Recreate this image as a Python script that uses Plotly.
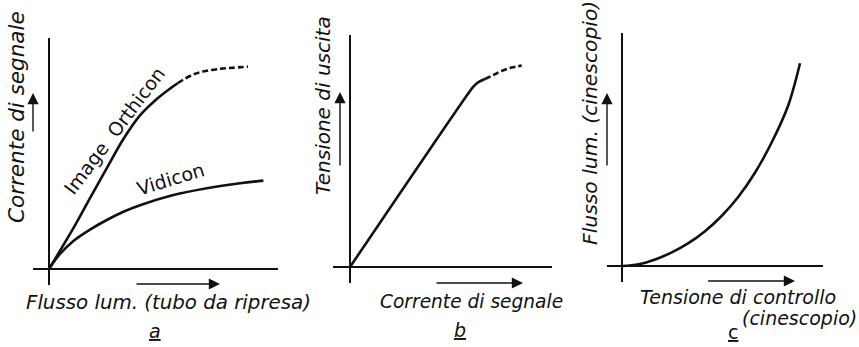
import plotly.graph_objects as go

W, H = 859, 347
INK = "#111111"

# ---------------- data (arbitrary units) ----------------
# panel a: signal current vs light flux
orthicon_x = [0, 1.22, 2.05, 2.89, 3.72, 4.55, 5.39, 6.05, 6.45]
orthicon_y = [0, 2.04, 3.54, 5.04, 6.50, 7.68, 8.50, 9.02, 9.30]
orthicon_dash_x = [6.45, 6.70, 7.20, 7.70, 8.40, 9.05, 9.95]
orthicon_dash_y = [9.30, 9.46, 9.72, 9.87, 9.99, 10.05, 10.12]
vidicon_x = [0, 0.55, 1.22, 2.05, 2.89, 3.72, 4.55, 6.22, 7.89, 9.55, 10.72]
vidicon_y = [0, 0.75, 1.40, 1.97, 2.45, 2.86, 3.19, 3.70, 4.04, 4.29, 4.42]

# panel b: output voltage vs signal current
out_x = [0, 5.92, 6.17, 6.42, 6.75]
out_y = [0, 8.69, 9.02, 9.24, 9.40]
out_dash_x = [6.75, 7.17, 7.58, 8.08, 8.58]
out_dash_y = [9.40, 9.60, 9.80, 9.97, 10.07]

# panel c: light flux vs control voltage
crt_x = [0, 0.83, 1.66, 2.49, 3.32, 4.15, 4.98, 5.81, 6.64, 7.47, 8.30, 8.90]
crt_y = [0, 0.09, 0.33, 0.68, 1.14, 1.74, 2.50, 3.45, 4.65, 6.15, 8.00, 10.14]

# ---------------- layout geometry (pixels) ----------------
S = 20.0  # px per unit
panels = {
    # name: (x0, x1, y0, y1, origin_x, origin_y)
    "a": (33, 278, 38, 285, 49, 269),
    "b": (333, 552, 35, 283, 350, 267),
    "c": (607, 823, 33, 282, 622, 266),
}

fig = go.Figure()

def add_line(x, y, axis, dash=None):
    fig.add_trace(go.Scatter(
        x=x, y=y, mode="lines", xaxis="x" + axis, yaxis="y" + axis,
        line=dict(color=INK, width=2.6, shape="spline", smoothing=1.0,
                  dash=dash or "solid"),
        hoverinfo="skip", showlegend=False))

add_line(orthicon_x, orthicon_y, "")
add_line(orthicon_dash_x, orthicon_dash_y, "", dash="6px,3px")
add_line(vidicon_x, vidicon_y, "")
add_line(out_x, out_y, "2")
add_line(out_dash_x, out_dash_y, "2", dash="6px,3px")
add_line(crt_x, crt_y, "3")

layout = dict(width=W, height=H, margin=dict(l=0, r=0, t=0, b=0),
              paper_bgcolor="white", plot_bgcolor="white", showlegend=False)

axis_common = dict(showgrid=False, showticklabels=False, ticks="", showline=False,
                   zeroline=True, zerolinecolor=INK, zerolinewidth=1.5,
                   fixedrange=True)

for i, key in enumerate(["a", "b", "c"]):
    x0, x1, y0, y1, ox, oy = panels[key]
    suf = "" if i == 0 else str(i + 1)
    layout["xaxis" + suf] = dict(axis_common, domain=[x0 / W, x1 / W],
                                 range=[(x0 - ox) / S, (x1 - ox) / S],
                                 anchor="y" + suf)
    layout["yaxis" + suf] = dict(axis_common, domain=[1 - y1 / H, 1 - y0 / H],
                                 range=[(oy - y1) / S, (oy - y0) / S],
                                 anchor="x" + suf)

fig.update_layout(**layout)

# ---------------- arrows ----------------
def arrow(axis, x_tail, y_tail, x_head, y_head):
    xr = "x" + axis
    yr = "y" + axis
    fig.add_annotation(x=x_head, y=y_head, ax=x_tail, ay=y_tail,
                       xref=xr, yref=yr, axref=xr, ayref=yr, text="",
                       showarrow=True, arrowhead=2, arrowsize=1.6,
                       arrowwidth=1.4, arrowcolor=INK)

arrow("", -0.8, 6.8, -0.8, 8.8)
arrow("", 4.3, -0.75, 8.55, -0.75)
arrow("2", -0.5, 5.0, -0.5, 8.75)
arrow("2", 4.25, -0.8, 8.65, -0.8)
arrow("3", -0.75, 4.95, -0.75, 8.65)
arrow("3", 4.23, -0.75, 8.65, -0.75)

# ---------------- texts ----------------
def ptext(text, px, py, size, angle=0, italic=True):
    fig.add_annotation(x=px / W, y=1 - py / H, xref="paper", yref="paper",
                       text=text, showarrow=False, textangle=angle,
                       xanchor="center", yanchor="middle",
                       font=dict(family="DejaVu Sans", size=size, color=INK,
                                 style="italic" if italic else "normal"))

ptext("Corrente di segnale", 17, 117, 21.5, angle=-90)
ptext("Flusso lum. (tubo da ripresa)", 168.5, 302, 19.8)
ptext("<u>a</u>", 155, 331, 19)

ptext("Tensione di uscita", 323, 106, 20, angle=-90)
ptext("Corrente di segnale", 471.5, 301.5, 18.6)
ptext("<u>b</u>", 460, 330, 19)

ptext("Flusso lum. (cinescopio)", 590, 123, 20.3, angle=-90)
ptext("Tensione di controllo", 737.5, 297, 19)
ptext("(cinescopio)", 799, 318, 19)
ptext("<u>c</u>", 733, 332, 19, italic=False)

# curve labels in panel a
fig.add_annotation(x=3.25, y=6.9, xref="x", yref="y", text="Image  Orthicon",
                   showarrow=False, textangle=-53, xanchor="center", yanchor="middle",
                   font=dict(family="DejaVu Sans", size=19, color=INK))
fig.add_annotation(x=6.05, y=4.5, xref="x", yref="y", text="Vidicon",
                   showarrow=False, textangle=-17, xanchor="center", yanchor="middle",
                   font=dict(family="DejaVu Sans", size=19, color=INK))

fig.write_html("out.html")
